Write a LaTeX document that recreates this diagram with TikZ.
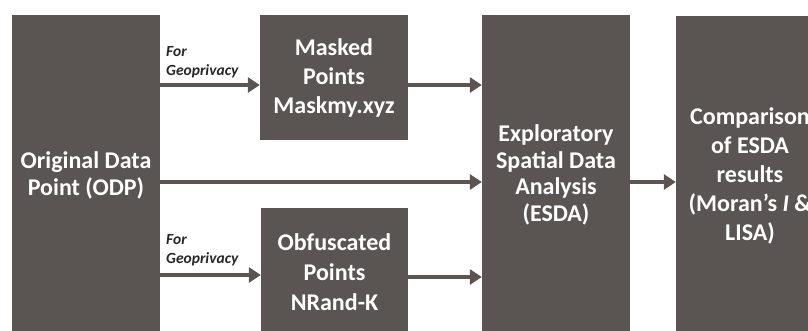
\documentclass[tikz,border=0pt]{standalone}
\usepackage{fontspec}
\setmainfont{Carlito}
\usetikzlibrary{arrows.meta}
\definecolor{boxgray}{HTML}{5A5553}
\definecolor{arrgray}{HTML}{5B5451}
\begin{document}
\begin{tikzpicture}[x=1pt,y=-1pt,
  box/.style={fill=boxgray,draw=none,text=white,align=center,inner sep=0pt,
    font=\bfseries\fontsize{24}{27}\selectfont},
  arr/.style={draw=arrgray,line width=4pt,-{Triangle[length=12pt,width=15pt]}},
  lbl/.style={anchor=north west,align=left,inner sep=0pt,text=black!85,
    font=\bfseries\itshape\fontsize{15.5}{19}\selectfont}]
\useasboundingbox (0,0) rectangle (808,330);
\begin{scope}
\clip (0,0) rectangle (808,330);
\node[box,minimum width=148pt,minimum height=320pt] (odp) at (86,175) {Original Data\\Point (ODP)};
\node[box,minimum width=148pt,minimum height=125pt,font=\bfseries\fontsize{24}{29}\selectfont] (mask) at (334,77.5) {Masked\\Points\\Maskmy.xyz};
\node[box,minimum width=147pt,minimum height=128pt,font=\bfseries\fontsize{24}{30}\selectfont] (obf) at (334.5,272) {Obfuscated\\Points\\NRand-K};
\node[box,minimum width=148pt,minimum height=320pt,font=\bfseries\fontsize{24}{26.5}\selectfont] (esda) at (556,175) {Exploratory\\Spatial Data\\Analysis\\(ESDA)};
\node[box,minimum width=148pt,minimum height=320pt,font=\bfseries\fontsize{24}{29}\selectfont] (comp) at (750,176) {Comparison\\of ESDA\\results\\(Moran’s \textit{I} \&\\LISA)};
\end{scope}
\draw[arr] (odp.east |- 0,85) -- (mask.west |- 0,85);
\draw[arr] (odp.east |- 0,182) -- (esda.west |- 0,182);
\draw[arr] (odp.east |- 0,275) -- (obf.west |- 0,275);
\draw[arr] (mask.east |- 0,85) -- (esda.west |- 0,85);
\draw[arr] (obf.east |- 0,277) -- (esda.west |- 0,277);
\draw[arr] (esda.east |- 0,182) -- (comp.west |- 0,182);
\node[lbl] (g1) at (166,46) {For\\Geoprivacy};
\node[lbl] (g2) at (166,234) {For\\Geoprivacy};
\end{tikzpicture}
\end{document}
